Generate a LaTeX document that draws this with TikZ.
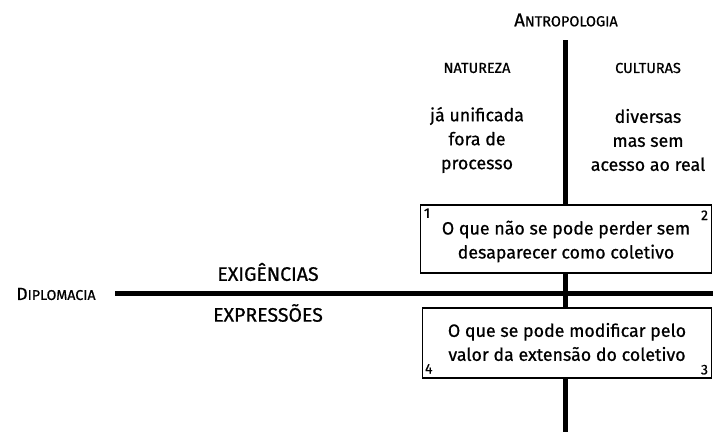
\documentclass[tikz,border=0pt]{standalone}
\usepackage{fontspec}
\setmainfont{Fira Sans}[UprightFeatures={FakeBold=0.7}]
\begin{document}
\begin{tikzpicture}[x=1pt,y=-1pt,
  axis/.style={line width=5pt},
  body/.style={font=\fontsize{17.8}{24}\selectfont, align=center, inner sep=0pt},
  head/.style={font=\fontsize{14.5}{16}\selectfont, inner sep=0pt},
  pole/.style={font=\fontsize{19.5}{21}\selectfont, inner sep=0pt},
  sc/.style={inner sep=0pt},
  quad/.style={draw, line width=1.4pt, fill=white, inner sep=0pt},
  num/.style={font=\fontsize{14}{16}\selectfont, inner sep=0pt}]
\useasboundingbox (0,0) rectangle (713,432);
\coordinate (vtop) at (565,40);
\coordinate (vbot) at (565,432);
\coordinate (hleft) at (115,293);
\coordinate (hright) at (713,293);
\draw[axis] (vtop) -- (vbot);
\draw[axis] (hleft) -- (hright);
\node[sc] (antro) at (566,20) {{\fontsize{18.5}{20}\selectfont A}{\fontsize{14.5}{16}\selectfont NTROPOLOGIA}};
\node[sc] (diplo) at (56,294) {{\fontsize{17.5}{19}\selectfont D}{\fontsize{14.2}{16}\selectfont IPLOMACIA}};
\node[head] (natureza) at (477,68) {NATUREZA};
\node[head] (culturas) at (648,68) {CULTURAS};
\node[body] (nat) at (477,140) {já unificada\\fora de\\processo};
\node[body] (cul) at (648,140) {diversas\\mas sem\\acesso ao real};
\node[pole] (exig) at (268,272) {EXIGÊNCIAS};
\node[pole] (expr) at (268,313) {EXPRESSÕES};
\node[quad, minimum width=291pt, minimum height=68pt] (b1) at (566,239) {};
\node[body] (t1) at (566,241.5) {O que não se pode perder sem\\desaparecer como coletivo};
\node[quad, minimum width=289pt, minimum height=70pt] (b2) at (567,343) {};
\node[body] (t2) at (567,342) {O que se pode modificar pelo\\valor da extensão do coletivo};
\node[num, anchor=north west] (n1) at ([xshift=4pt,yshift=-4pt]b1.north west) {1};
\node[num, anchor=north east] (n2) at ([xshift=-4pt,yshift=-6pt]b1.north east) {2};
\node[num, anchor=south west] (n4) at ([xshift=3pt,yshift=5pt]b2.south west) {4};
\node[num, anchor=south east] (n3) at ([xshift=-4pt,yshift=4pt]b2.south east) {3};
\end{tikzpicture}
\end{document}
